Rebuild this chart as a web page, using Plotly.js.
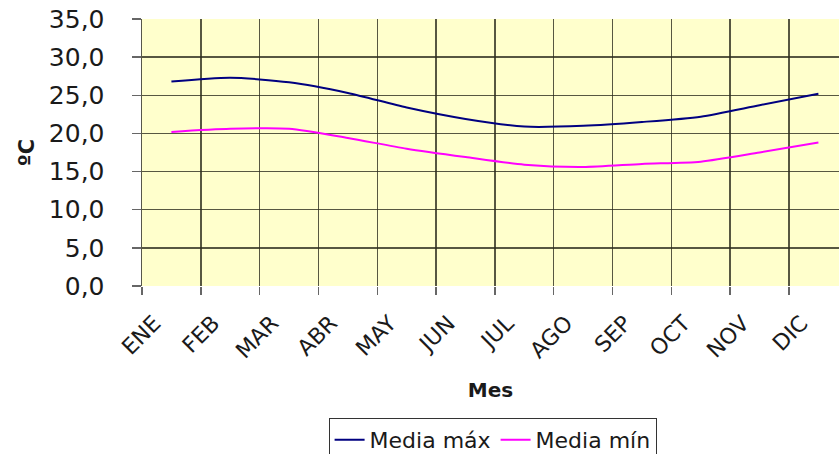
<!DOCTYPE html>
<html>
<head>
<meta charset="utf-8">
<script src="https://cdn.plot.ly/plotly-3.0.1.min.js"></script>
<style>
html,body{margin:0;padding:0;background:#fff;overflow:hidden;width:839px;height:454px;}
#wrap{width:839px;height:454px;overflow:hidden;}
#chart{width:839px;height:480px;}
</style>
</head>
<body>
<div id="wrap"><div id="chart"></div></div>
<script>
var months = ["ENE","FEB","MAR","ABR","MAY","JUN","JUL","AGO","SEP","OCT","NOV","DIC"];
var mediaMax = [26.8, 27.3, 26.7, 25.3, 23.4, 21.9, 20.9, 21.0, 21.5, 22.2, 23.7, 25.2];
var mediaMin = [20.2, 20.6, 20.6, 19.4, 18.0, 16.9, 15.9, 15.6, 16.0, 16.3, 17.5, 18.8];
var seriesNames = ["Media máx", "Media mín"];

var font = "DejaVu Sans, Verdana, sans-serif";
var gridCol = "rgba(45,45,30,0.8)";

var traces = [
  {x: months, y: mediaMax, name: seriesNames[0], type: "scatter", mode: "lines",
   line: {color: "#000080", width: 2, shape: "spline", smoothing: 0.7}},
  {x: months, y: mediaMin, name: seriesNames[1], type: "scatter", mode: "lines",
   line: {color: "#FF00FF", width: 2, shape: "spline", smoothing: 0.7}}
];

var layout = {
  width: 839, height: 480,
  margin: {l: 142, r: 0, t: 19, b: 194, pad: 0},
  paper_bgcolor: "#ffffff",
  plot_bgcolor: "#FFFFCC",
  separators: ",.",
  font: {family: font, size: 22, color: "#1a1a1a"},
  showlegend: true,
  legend: {orientation: "h", x: 0.503, xanchor: "center", y: -0.494, yanchor: "top",
           bordercolor: "#333", borderwidth: 1, bgcolor: "#fff",
           font: {family: font, size: 22, color: "#1a1a1a"}, itemwidth: 30,
           tracegroupgap: 0},
  xaxis: {
    type: "category", range: [-0.5, 11.35], tickson: "boundaries",
    tickangle: -45, ticks: "outside", ticklen: 8, tickcolor: "#666", tickwidth: 1.5,
    showgrid: true, gridcolor: gridCol, gridwidth: 1.5,
    showline: false, zeroline: false, automargin: false,
    ticklabelstandoff: 19, ticklabelshift: -17,
    tickfont: {family: font, size: 22, color: "#1a1a1a"},
    title: {text: "<b>Mes</b>", font: {family: font, size: 20, color: "#1a1a1a"}, standoff: 20}
  },
  yaxis: {
    range: [0, 35], dtick: 5, tick0: 0, tickformat: ".1f",
    ticks: "outside", ticklen: 9, tickcolor: "#666", tickwidth: 1.5,
    showgrid: true, gridcolor: gridCol, gridwidth: 1.5,
    showline: true, linecolor: gridCol, linewidth: 1.5, zeroline: false,
    automargin: false, ticklabelstandoff: 22,
    tickfont: {family: font, size: 25, color: "#1a1a1a"},
    title: {text: "<b>ºC</b>", font: {family: font, size: 21, color: "#1a1a1a"}, standoff: 8}
  }
};

Plotly.newPlot("chart", traces, layout, {displayModeBar: false, staticPlot: true});
</script>
</body>
</html>
